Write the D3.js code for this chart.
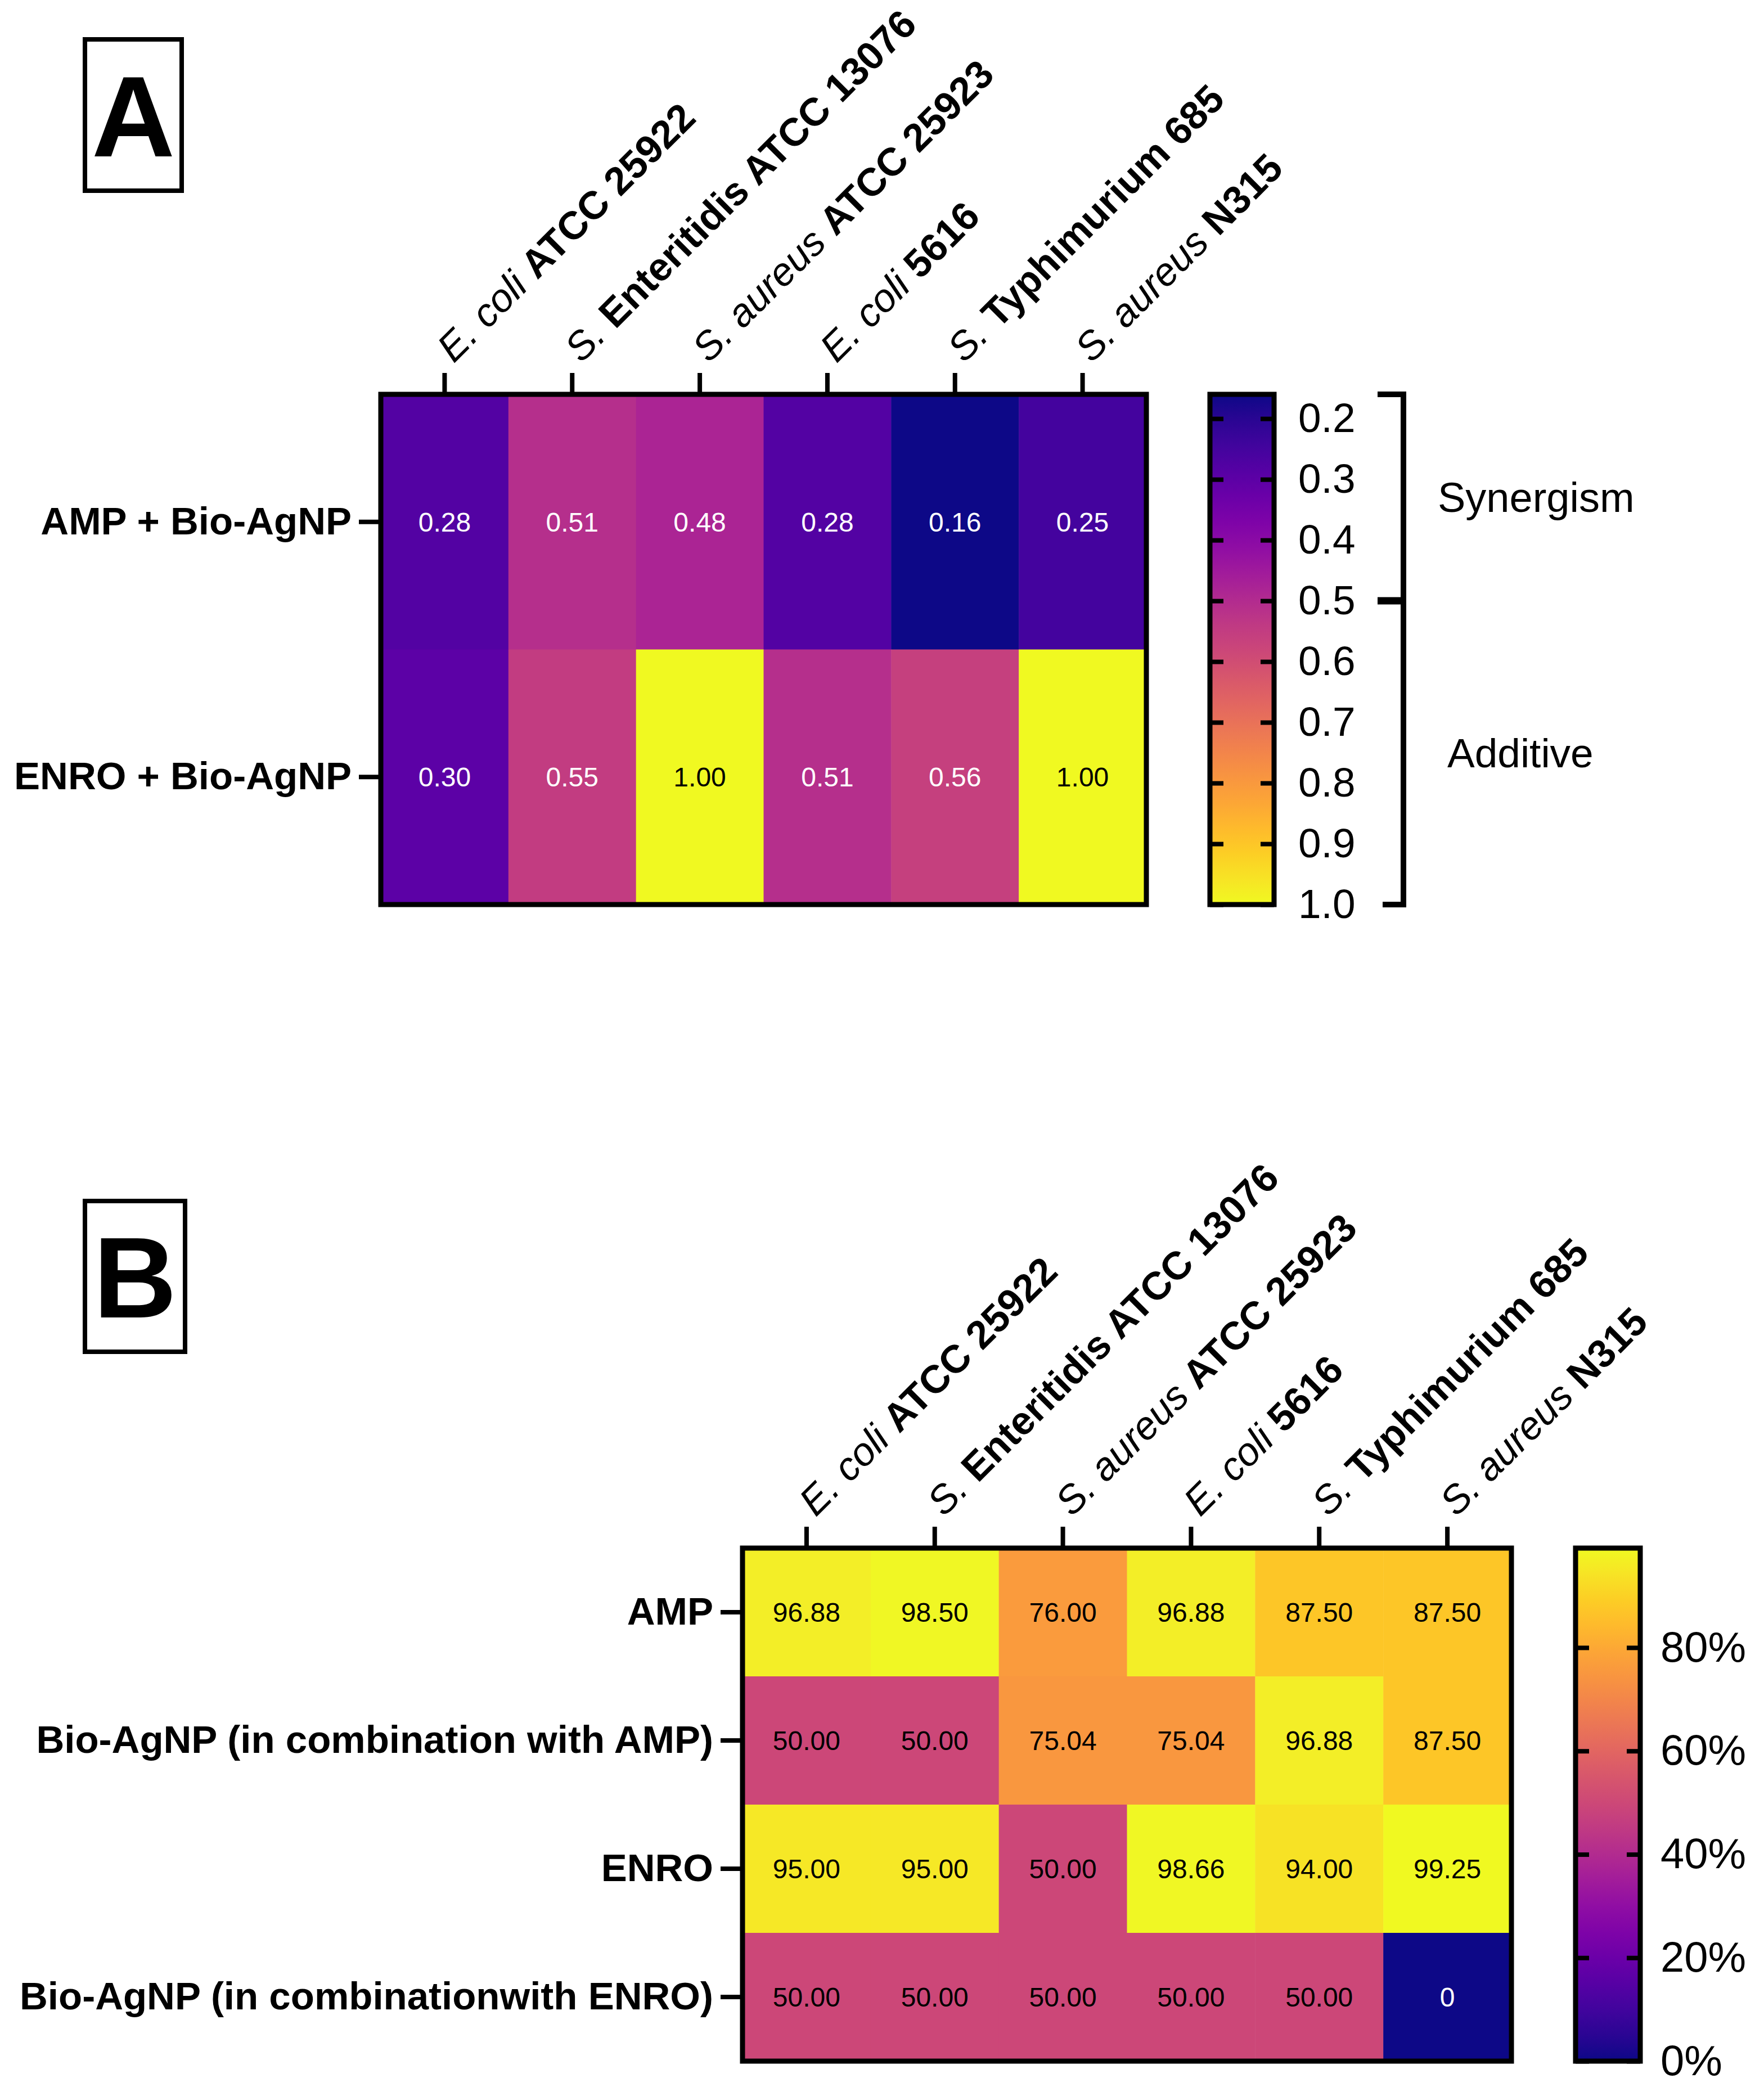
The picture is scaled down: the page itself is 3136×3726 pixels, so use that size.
<!DOCTYPE html>
<html>
<head>
<meta charset="utf-8">
<script src="https://cdn.jsdelivr.net/npm/d3@7"></script>
<style>
  body { margin: 0; background: #fff; }
  text { font-family: "Liberation Sans", Arial, Helvetica, sans-serif; }
</style>
</head>
<body>
<svg id="chart" width="3136" height="3726"></svg>
<script>
// strains (columns) - italic genus part + bold strain part
var strainItalic = ["E. coli", "S.", "S. aureus", "E. coli", "S.", "S. aureus"];
var strainBold = ["ATCC 25922", "Enteritidis ATCC 13076", "ATCC 25923", "5616", "Typhimurium 685", "N315"];

// panel A : FICI
var rowsA = ["AMP + Bio-AgNP", "ENRO + Bio-AgNP"];
var ampFici = [0.28, 0.51, 0.48, 0.28, 0.16, 0.25];
var enroFici = [0.30, 0.55, 1.00, 0.51, 0.56, 1.00];
var ficiTicks = [0.2, 0.3, 0.4, 0.5, 0.6, 0.7, 0.8, 0.9, 1.0];

// panel B : reduction %
var rowsB = ["AMP", "Bio-AgNP (in combination with AMP)", "ENRO", "Bio-AgNP (in combinationwith ENRO)"];
var ampRed = [96.88, 98.50, 76.00, 96.88, 87.50, 87.50];
var agAmpRed = [50.00, 50.00, 75.04, 75.04, 96.88, 87.50];
var enroRed = [95.00, 95.00, 50.00, 98.66, 94.00, 99.25];
var agEnroRed = [50.00, 50.00, 50.00, 50.00, 50.00, 0];
var pctTicks = [0, 20, 40, 60, 80];

var svg = d3.select("#chart");
var cols = d3.range(strainBold.length);

function panelLetter(letter, x, y, w, h) {
  svg.append("rect").attr("x", x).attr("y", y).attr("width", w).attr("height", h)
    .attr("fill", "none").attr("stroke", "#000").attr("stroke-width", 8);
  svg.append("text").attr("x", x + w / 2).attr("y", y + h / 2 + 73)
    .attr("text-anchor", "middle").attr("font-weight", "bold").attr("font-size", 205)
    .text(letter);
}

function heatmap(opt) {
  var g = svg.append("g");
  var x = d3.scaleBand().domain(cols).range([opt.x0, opt.x1]);
  var y = d3.scaleBand().domain(d3.range(opt.rows.length)).range([opt.y0, opt.y1]);

  var cells = [];
  opt.values.forEach(function(row, r) {
    row.forEach(function(v, c) { cells.push({r: r, c: c, v: v}); });
  });

  g.selectAll("rect.cell").data(cells).enter().append("rect")
    .attr("class", "cell")
    .attr("x", function(d) { return x(d.c); })
    .attr("y", function(d) { return y(d.r); })
    .attr("width", x.bandwidth() + 0.5)
    .attr("height", y.bandwidth() + 0.5)
    .attr("fill", function(d) { return opt.color(d.v); });

  g.selectAll("text.val").data(cells).enter().append("text")
    .attr("class", "val")
    .attr("x", function(d) { return x(d.c) + x.bandwidth() / 2; })
    .attr("y", function(d) { return y(d.r) + y.bandwidth() / 2; })
    .attr("dy", "0.35em")
    .attr("text-anchor", "middle")
    .attr("font-size", 48)
    .attr("fill", function(d) { return opt.textColor(d.v); })
    .text(function(d) { return d.v === 0 ? "0" : d.v.toFixed(2); });

  g.append("rect").attr("x", opt.x0).attr("y", opt.y0)
    .attr("width", opt.x1 - opt.x0).attr("height", opt.y1 - opt.y0)
    .attr("fill", "none").attr("stroke", "#000").attr("stroke-width", 9);

  // column axis
  var top = g.append("g").attr("transform", "translate(0," + (opt.y0 - 4) + ")")
    .call(d3.axisTop(x).tickSize(34).tickSizeOuter(0));
  top.select(".domain").remove();
  top.selectAll(".tick line").attr("stroke-width", 8);
  top.selectAll(".tick text").each(function(i) {
    var t = d3.select(this).text("")
      .attr("x", null).attr("y", null).attr("dy", null)
      .attr("fill", "#000").attr("font-size", 70)
      .attr("text-anchor", "start")
      .attr("transform", "translate(16,-50) rotate(-45)");
    t.append("tspan").attr("font-style", "italic").text(strainItalic[i] + " ");
    t.append("tspan").attr("font-weight", "bold").text(strainBold[i]);
  });

  // row axis
  var left = g.append("g").attr("transform", "translate(" + (opt.x0 - 4) + ",0)")
    .call(d3.axisLeft(y).tickSize(35).tickPadding(13).tickSizeOuter(0)
      .tickFormat(function(i) { return opt.rows[i]; }));
  left.select(".domain").remove();
  left.selectAll(".tick line").attr("stroke-width", 8);
  left.selectAll(".tick text").attr("fill", "#000").attr("font-size", 69)
    .attr("font-weight", "bold");
}

function colorbar(opt) {
  var defs = svg.append("defs");
  var grad = defs.append("linearGradient").attr("id", opt.id)
    .attr("x1", 0).attr("x2", 0).attr("y1", 0).attr("y2", 1);
  d3.range(0, 1.0001, 0.05).forEach(function(t) {
    var v = opt.scale.invert(opt.y0 + t * (opt.y1 - opt.y0));
    grad.append("stop").attr("offset", t).attr("stop-color", opt.color(v));
  });
  svg.append("rect").attr("x", opt.x0).attr("y", opt.y0)
    .attr("width", opt.x1 - opt.x0).attr("height", opt.y1 - opt.y0)
    .attr("fill", "url(#" + opt.id + ")");

  var right = svg.append("g").attr("transform", "translate(" + opt.x1 + ",0)")
    .call(d3.axisRight(opt.scale).tickValues(opt.ticks).tickSize(-24)
      .tickPadding(opt.pad).tickFormat(opt.format));
  right.select(".domain").remove();
  right.selectAll(".tick line").attr("stroke-width", 8);
  right.selectAll(".tick text").attr("fill", "#000").attr("font-size", opt.fontSize);

  var leftAx = svg.append("g").attr("transform", "translate(" + opt.x0 + ",0)")
    .call(d3.axisLeft(opt.scale).tickValues(opt.ticks).tickSize(-24).tickFormat(""));
  leftAx.select(".domain").remove();
  leftAx.selectAll(".tick line").attr("stroke-width", 8);

  svg.append("rect").attr("x", opt.x0).attr("y", opt.y0)
    .attr("width", opt.x1 - opt.x0).attr("height", opt.y1 - opt.y0)
    .attr("fill", "none").attr("stroke", "#000").attr("stroke-width", 9);
}

// ---------- panel A ----------
panelLetter("A", 151, 70, 172, 269);

var ficiDomain = [d3.min(ampFici.concat(enroFici)), d3.max(ampFici.concat(enroFici))];
var colorA = d3.scaleSequential(d3.interpolatePlasma).domain(ficiDomain);

heatmap({
  x0: 677, x1: 2038, y0: 701, y1: 1608,
  rows: rowsA,
  values: [ampFici, enroFici],
  color: colorA,
  textColor: function(v) { return v >= 0.9 ? "#000" : "#fff"; }
});

var yFici = d3.scaleLinear().domain(ficiDomain).range([701, 1608]);
colorbar({
  id: "gradA", x0: 2151, x1: 2265, y0: 701, y1: 1608,
  scale: yFici, color: colorA, ticks: ficiTicks, pad: 43, fontSize: 73,
  format: d3.format(".1f")
});

// bracket
svg.append("path")
  .attr("d", "M2449," + yFici(ficiDomain[0]) + "H2495V" + yFici(1.0) + "H2458")
  .attr("fill", "none").attr("stroke", "#000").attr("stroke-width", 10);
svg.append("path")
  .attr("d", "M2449," + yFici(0.5) + "H2495")
  .attr("stroke", "#000").attr("stroke-width", 13);
svg.append("text").attr("x", 2556).attr("y", (yFici(ficiDomain[0]) + yFici(0.5)) / 2)
  .attr("dy", "0.35em").attr("font-size", 74).text("Synergism");
svg.append("text").attr("x", 2573).attr("y", (yFici(0.5) + yFici(1.0)) / 2)
  .attr("dy", "0.35em").attr("font-size", 73).text("Additive");

// ---------- panel B ----------
panelLetter("B", 151, 2135, 178, 268);

var allRed = ampRed.concat(agAmpRed, enroRed, agEnroRed);
var redDomain = [d3.min(allRed), d3.max(allRed)];
var colorB = d3.scaleSequential(d3.interpolatePlasma).domain(redDomain);

heatmap({
  x0: 1320, x1: 2687, y0: 2752, y1: 3664,
  rows: rowsB,
  values: [ampRed, agAmpRed, enroRed, agEnroRed],
  color: colorB,
  textColor: function(v) { return v <= 10 ? "#fff" : "#000"; }
});

var yRed = d3.scaleLinear().domain(redDomain).range([3664, 2752]);
colorbar({
  id: "gradB", x0: 2801, x1: 2916, y0: 2752, y1: 3664,
  scale: yRed, color: colorB, ticks: pctTicks, pad: 36, fontSize: 76,
  format: function(d) { return d + "%"; }
});
</script>
</body>
</html>
